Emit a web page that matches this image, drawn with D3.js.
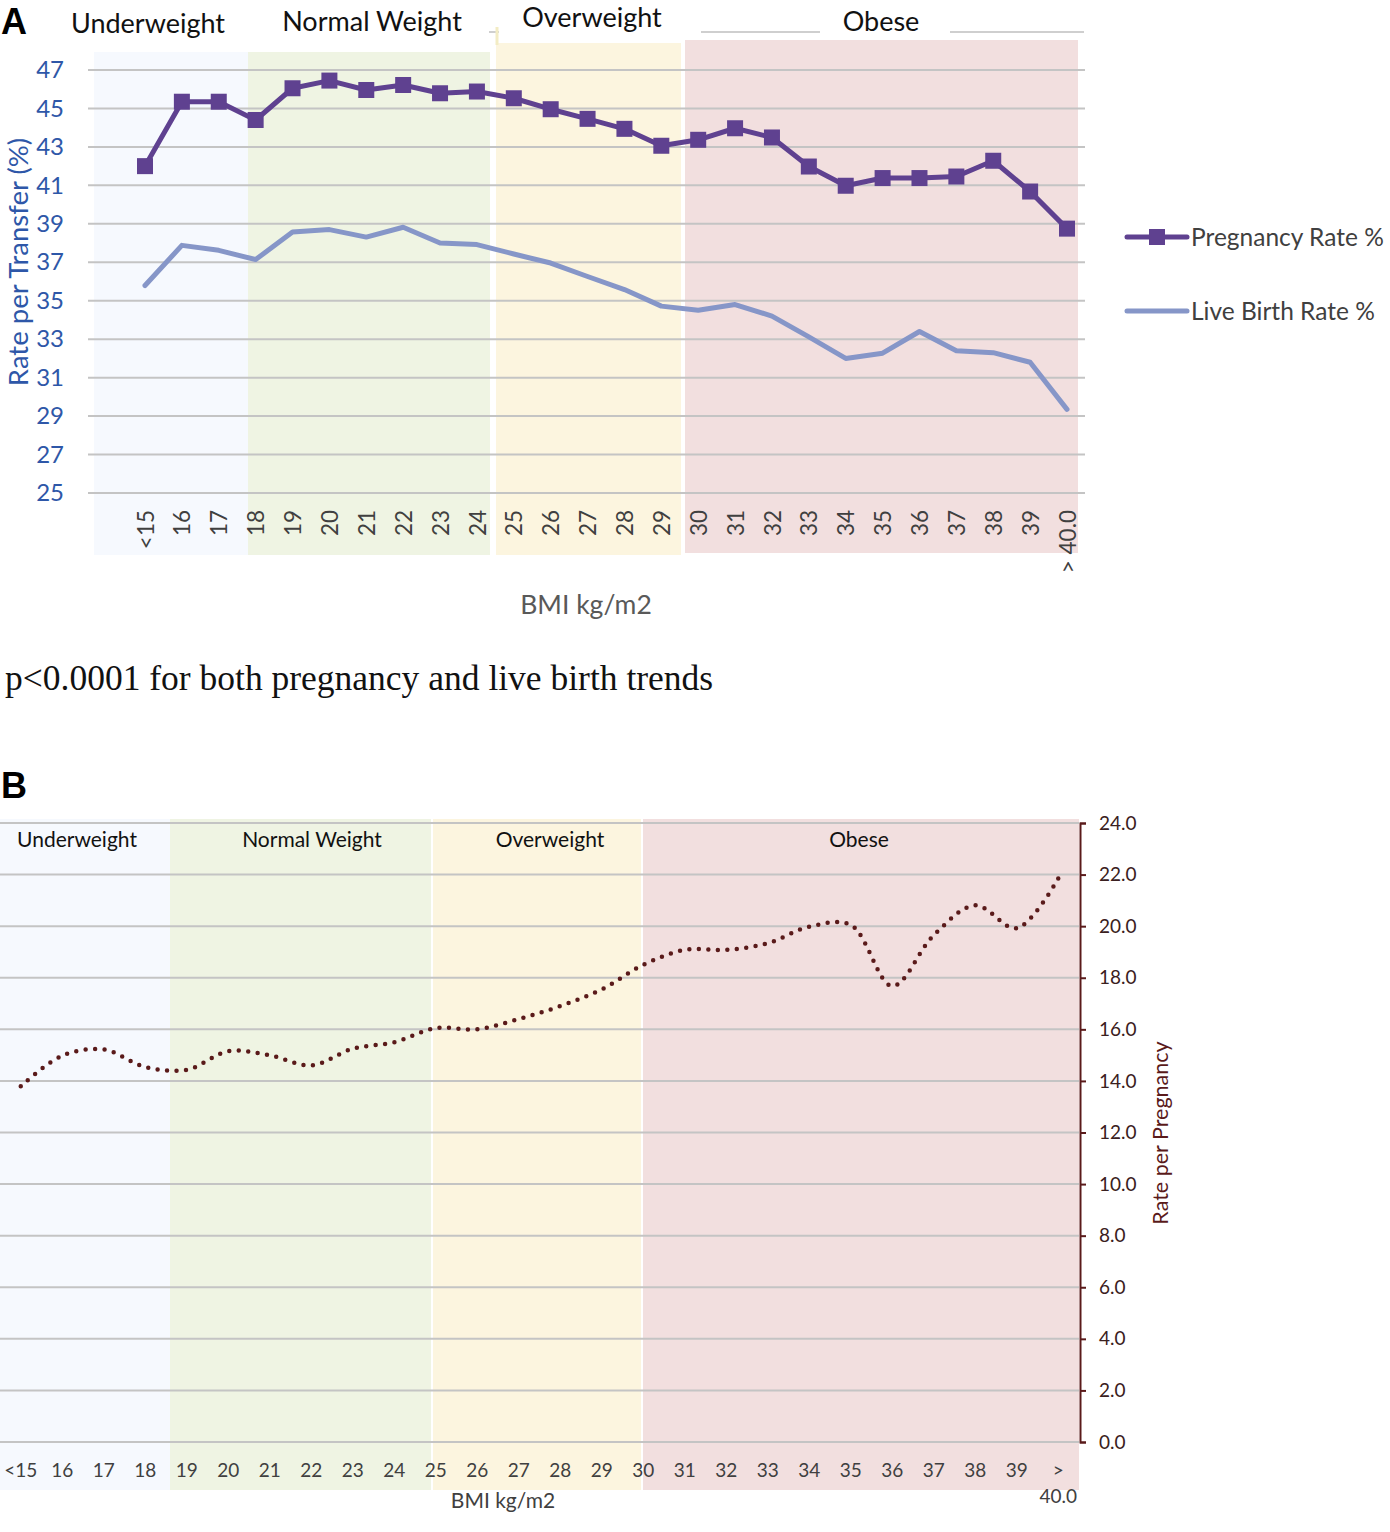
<!DOCTYPE html>
<html><head><meta charset="utf-8">
<script src="https://cdn.jsdelivr.net/npm/d3@7"></script>
<style>
body{margin:0;background:#fff;}
svg{display:block;}
text{font-family:Lato,"Noto Sans",sans-serif;}
</style></head>
<body>
<svg id="chart" width="1390" height="1532"></svg>
<script>
// ---------- DATA ----------
const categories = ["<15","16","17","18","19","20","21","22","23","24","25","26","27","28","29","30","31","32","33","34","35","36","37","38","39","> 40.0"];
const pregnancyRate = [42.0,45.35,45.35,44.4,46.05,46.45,45.96,46.22,45.79,45.88,45.53,44.96,44.46,43.94,43.06,43.37,43.97,43.49,41.98,40.98,41.38,41.38,41.46,42.28,40.68,38.75];
const liveBirthRate = [35.79,37.88,37.62,37.14,38.57,38.70,38.31,38.82,38.0,37.92,37.43,36.96,36.26,35.58,34.72,34.5,34.8,34.2,33.12,32.0,32.27,33.4,32.4,32.3,31.8,29.35];
const ratePerPregnancy = [13.79,14.98,15.22,14.54,14.43,15.15,15.0,14.6,15.25,15.5,16.05,16.0,16.4,16.9,17.55,18.5,19.08,19.08,19.34,19.98,20.05,17.68,19.65,20.81,19.92,21.85];
const weightGroups = ["Underweight","Normal Weight","Overweight","Obese"];
const yTicksA = [25,27,29,31,33,35,37,39,41,43,45,47];
const yTicksB = [0,2,4,6,8,10,12,14,16,18,20,22,24];
const seriesNames = ["Pregnancy Rate %","Live Birth Rate %"];

// ---------- STYLE ----------
const bandColors = ["#f6f9fe","#eff4e3","#fcf5df","#f2dfdf"];
const pregColor = "#5f4190";
const liveColor = "#8696c8";
const gridColor = "#c4c4c4";
const blueText = "#2e57a8";
const darkText = "#404040";
const maroon = "#5a1a1a";

const svg = d3.select("#chart");

// ================= PANEL A =================
const gA = svg.append("g");
const xA = d3.scalePoint().domain(categories).range([145,1067]);
const yA = d3.scaleLinear().domain([25,47]).range([493,70]);

// background bands (decorative rectangles, layout constants)
const bandsA = [
  {x0:94, x1:248, y0:52, y1:555},
  {x0:248, x1:490, y0:52, y1:555},
  {x0:496, x1:681, y0:43, y1:555},
  {x0:685, x1:1078, y0:40, y1:553}
];
gA.selectAll("rect.band").data(bandsA).join("rect")
  .attr("x",d=>d.x0).attr("y",d=>d.y0)
  .attr("width",d=>d.x1-d.x0).attr("height",d=>d.y1-d.y0)
  .attr("fill",(d,i)=>bandColors[i]);

// stray lines of header boxes
gA.append("line").attr("x1",701).attr("x2",820).attr("y1",32).attr("y2",32).attr("stroke","#cfcfcf").attr("stroke-width",2);
gA.append("line").attr("x1",950).attr("x2",1084).attr("y1",32).attr("y2",32).attr("stroke","#cfcfcf").attr("stroke-width",2);
gA.append("line").attr("x1",489).attr("x2",499).attr("y1",32).attr("y2",32).attr("stroke","#cfcfcf").attr("stroke-width",2);
gA.append("line").attr("x1",497).attr("x2",497).attr("y1",27).attr("y2",45).attr("stroke","#f3ecc4").attr("stroke-width",3);

// gridlines
gA.selectAll("line.grid").data(yTicksA).join("line")
  .attr("x1",88).attr("x2",1085)
  .attr("y1",d=>yA(d)).attr("y2",d=>yA(d))
  .attr("stroke",gridColor).attr("stroke-width",2);

// y axis labels
const yAxisA = d3.axisLeft(yA).tickValues(yTicksA).tickSize(0).tickPadding(0);
const yAxG = gA.append("g").attr("transform","translate(64,0)").call(yAxisA);
yAxG.select(".domain").remove();
yAxG.selectAll("text").attr("fill",blueText).style("font-size","24px").style("font-family","Lato");

// x axis labels rotated
const xAxisA = d3.axisBottom(xA).tickSize(0);
const xAxG = gA.append("g").attr("transform","translate(0,510)").call(xAxisA);
xAxG.select(".domain").remove();
xAxG.selectAll("text")
  .attr("fill",darkText).style("font-size","22.5px").style("font-family","Lato")
  .attr("transform","rotate(-90)").attr("text-anchor","end")
  .attr("x",0).attr("y",0).attr("dy","0.36em");

// titles
gA.append("text").attr("transform","translate(17,262) rotate(-90)")
  .attr("text-anchor","middle").attr("dominant-baseline","central")
  .attr("fill",blueText).style("font-size","27.5px").text("Rate per Transfer (%)");
gA.append("text").attr("x",586).attr("y",614).attr("text-anchor","middle")
  .attr("fill","#595959").style("font-size","26.5px").text("BMI kg/m2");

// group labels
const groupLabelA = [{x:148,y:33},{x:372,y:31},{x:592,y:27},{x:881,y:31}];
gA.selectAll("text.grp").data(weightGroups).join("text")
  .attr("x",(d,i)=>groupLabelA[i].x).attr("y",(d,i)=>groupLabelA[i].y)
  .attr("text-anchor","middle").attr("fill","#111").style("font-size","27px").text(d=>d);

// lines
const lineA = vals => d3.line().x((d,i)=>xA(categories[i])).y(d=>yA(d))(vals);
gA.append("path").attr("d",lineA(liveBirthRate)).attr("fill","none")
  .attr("stroke",liveColor).attr("stroke-width",5).attr("stroke-linejoin","round").attr("stroke-linecap","round");
gA.append("path").attr("d",lineA(pregnancyRate)).attr("fill","none")
  .attr("stroke",pregColor).attr("stroke-width",5).attr("stroke-linejoin","round");
gA.selectAll("rect.mk").data(pregnancyRate).join("rect")
  .attr("x",(d,i)=>xA(categories[i])-8).attr("y",d=>yA(d)-8)
  .attr("width",16).attr("height",16).attr("fill",pregColor);

// legend
const legY = [237,311];
const leg = gA.selectAll("g.leg").data(seriesNames).join("g")
  .attr("transform",(d,i)=>`translate(1127,${legY[i]})`);
leg.append("line").attr("x1",0).attr("x2",60).attr("y1",0).attr("y2",0)
  .attr("stroke",(d,i)=>i===0?pregColor:liveColor).attr("stroke-width",5).attr("stroke-linecap","round");
leg.filter((d,i)=>i===0).append("rect").attr("x",22).attr("y",-8).attr("width",16).attr("height",16).attr("fill",pregColor);
leg.append("text").attr("x",64).attr("y",0).attr("dy","0.35em")
  .attr("fill",darkText).style("font-size","24.5px").text(d=>d);

// p-value note & panel letters
svg.append("text").attr("x",5).attr("y",690)
  .style("font-family","'Liberation Serif','Times New Roman',serif").style("font-size","35.5px")
  .attr("fill","#111").text("p<0.0001 for both pregnancy and live birth trends");
svg.append("text").attr("x",1).attr("y",34).style("font-family","'Liberation Sans',Arial,sans-serif")
  .style("font-weight","bold").style("font-size","36px").attr("fill","#000").text("A");
svg.append("text").attr("x",1).attr("y",798).style("font-family","'Liberation Sans',Arial,sans-serif")
  .style("font-weight","bold").style("font-size","36px").attr("fill","#000").text("B");

// ================= PANEL B =================
const gB = svg.append("g");
const xB = d3.scaleBand().domain(categories).range([0,1079]);
const cx = c => xB(c) + xB.bandwidth()/2;
const yB = d3.scaleLinear().domain([0,24]).range([1442,823]);

const bandsB = [
  {x0:0, x1:170}, {x0:170, x1:431}, {x0:433, x1:641}, {x0:643, x1:1079}
];
gB.selectAll("rect.band").data(bandsB).join("rect")
  .attr("x",d=>d.x0).attr("y",819).attr("width",d=>d.x1-d.x0).attr("height",1490-819)
  .attr("fill",(d,i)=>bandColors[i]);

gB.selectAll("line.grid").data(yTicksB).join("line")
  .attr("x1",0).attr("x2",1079).attr("y1",d=>yB(d)).attr("y2",d=>yB(d))
  .attr("stroke",gridColor).attr("stroke-width",2);

// right axis
const yAxisB = d3.axisRight(yB).tickValues(yTicksB).tickSize(6).tickPadding(13).tickFormat(d3.format(".1f"));
const yBG = gB.append("g").attr("transform","translate(1080,0)").call(yAxisB);
yBG.select(".domain").attr("stroke",maroon).attr("stroke-width",2);
yBG.selectAll(".tick line").attr("stroke",maroon).attr("stroke-width",2);
yBG.selectAll("text").attr("fill","#3a2020").style("font-size","19px").style("font-family","Lato");
gB.append("text").attr("transform","translate(1160,1133) rotate(-90)")
  .attr("text-anchor","middle").attr("dominant-baseline","central")
  .attr("fill",maroon).style("font-size","21.5px").text("Rate per Pregnancy");

// x labels
const xAxisB = d3.axisBottom(xB).tickSize(0).tickFormat(()=>"");
const xBG = gB.append("g").attr("transform","translate(0,1471)").call(xAxisB);
xBG.select(".domain").remove();
xBG.selectAll(".tick").each(function(d){
  const parts = d.split(" ");
  const t = d3.select(this).select("text").attr("y",0).attr("dy","0.32em")
    .attr("fill",darkText).style("font-size","19px").style("font-family","Lato");
  parts.forEach((p,k)=>t.append("tspan").attr("x",0).attr("dy",k===0?"0.32em":"1.35em").text(p));
});
gB.append("text").attr("x",503).attr("y",1508).attr("text-anchor","middle")
  .attr("fill",darkText).style("font-size","21px").text("BMI kg/m2");

// group labels
const groupLabelB = [77,312,550,859];
gB.selectAll("text.grp").data(weightGroups).join("text")
  .attr("x",(d,i)=>groupLabelB[i]).attr("y",847).attr("text-anchor","middle")
  .attr("fill","#111").style("font-size","21px").text(d=>d);

// dotted smooth line
const lineB = d3.line().x((d,i)=>cx(categories[i])).y(d=>yB(d)).curve(d3.curveCatmullRom.alpha(0.5));
gB.append("path").attr("d",lineB(ratePerPregnancy)).attr("fill","none")
  .attr("stroke",maroon).attr("stroke-width",4.5).attr("stroke-linecap","round")
  .attr("stroke-dasharray","0 9.5");
</script>
</body></html>
